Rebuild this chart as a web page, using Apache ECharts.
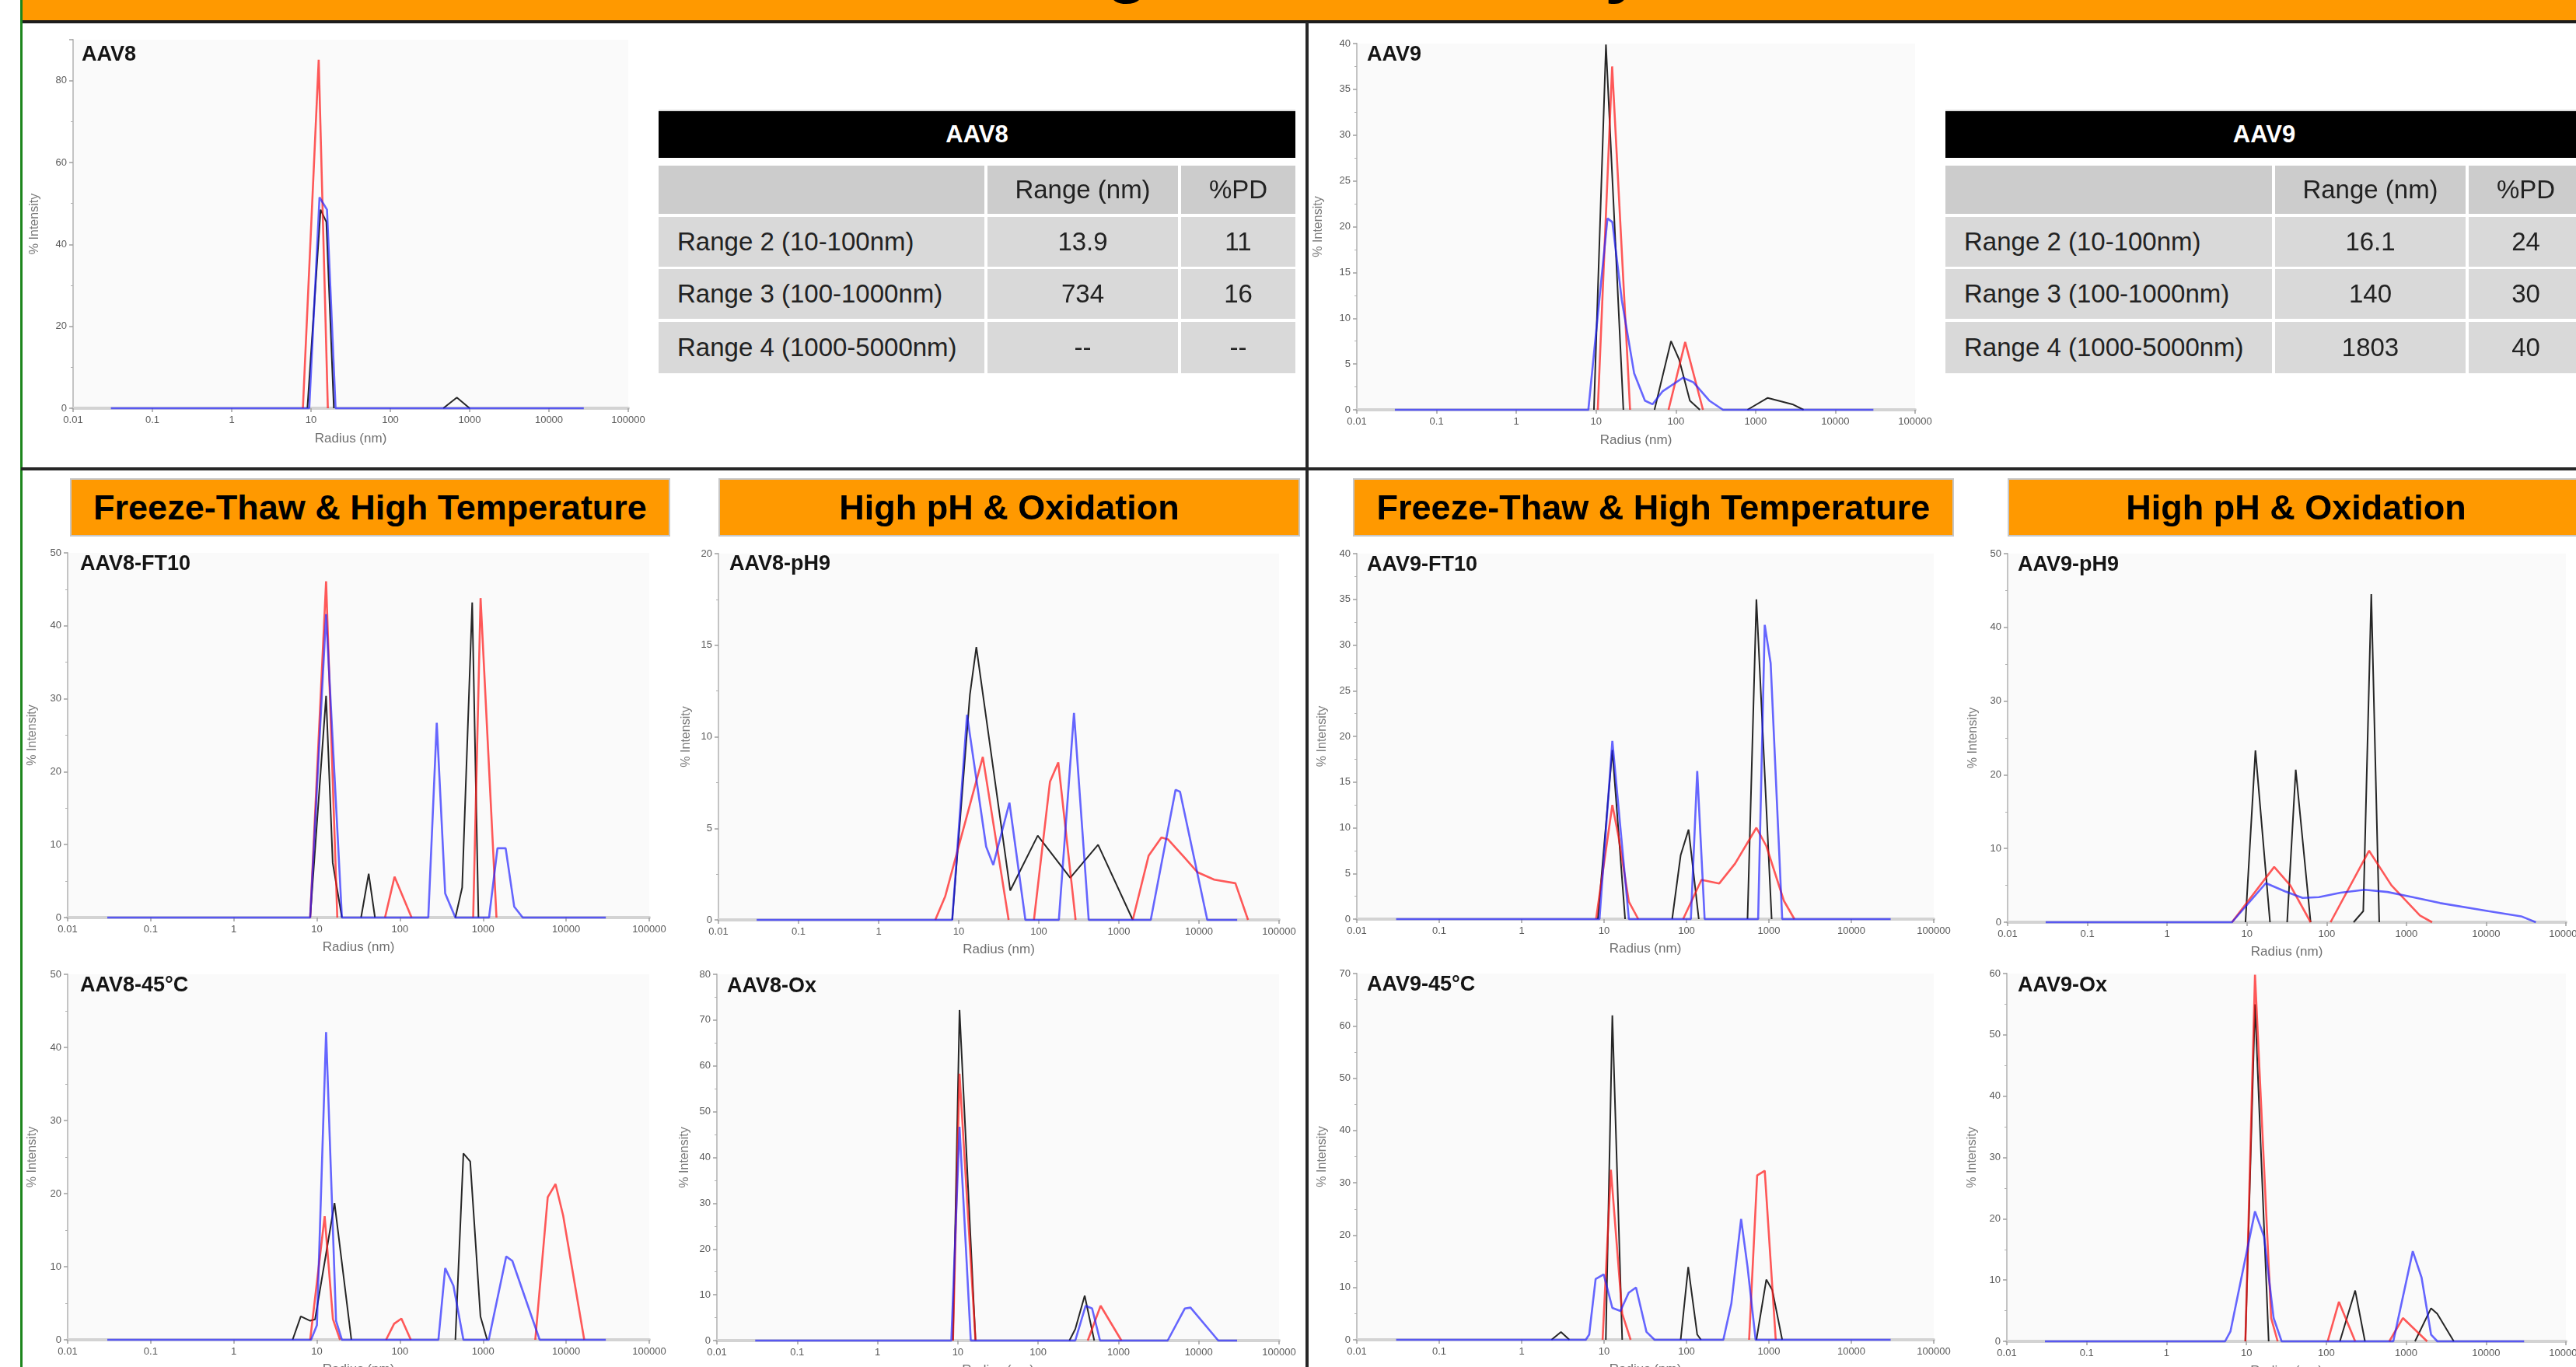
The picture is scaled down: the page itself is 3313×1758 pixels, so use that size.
<!DOCTYPE html>
<html>
<head>
<meta charset="utf-8">
<title>AAV DLS stress study</title>
<script src="https://cdn.jsdelivr.net/npm/echarts@6.0.0/dist/echarts.min.js"></script>
<style>
html,body{margin:0;padding:0;background:#fff;width:3313px;height:1758px;overflow:hidden;}
#chart{position:absolute;left:0;top:0;width:3313px;height:1758px;}
.f{position:absolute;box-sizing:border-box;font-family:"Liberation Sans",Arial,sans-serif;white-space:nowrap;}
</style>
</head>
<body>
<div id="chart"></div>
<script>
// ================= DATA =================
const pageTitle = 'Forced Degradation Study';
const sectionHeaders = ['Freeze-Thaw & High Temperature', 'High pH & Oxidation'];
const panelTitles = ['AAV8', 'AAV9', 'AAV8-FT10', 'AAV8-pH9', 'AAV9-FT10', 'AAV9-pH9', 'AAV8-45°C', 'AAV8-Ox', 'AAV9-45°C', 'AAV9-Ox'];
const radiusTickLabels = ['0.01', '0.1', '1', '10', '100', '1000', '10000', '100000'];
const yMax  = [90, 40, 50, 20, 40, 50, 50, 80, 70, 60];
const yStep = [20, 5, 10, 5, 5, 10, 10, 10, 10, 10];
const xAxisName = 'Radius (nm)';
const yAxisName = '% Intensity';

const tableHeader = ['', 'Range (nm)', '%PD'];
const tableRowLabels = ['Range 2 (10-100nm)', 'Range 3 (100-1000nm)', 'Range 4 (1000-5000nm)'];
const aav8Range = ['13.9', '734', '--'];
const aav8PD    = ['11', '16', '--'];
const aav9Range = ['16.1', '140', '1803'];
const aav9PD    = ['24', '30', '40'];

const _ = null; // break in a trace
// [radius nm, % intensity]
const aav8Black = [[9.0,0],[13.2,48.5],[15.6,45.5],[19.4,0],_,[465,0],[690,2.6],[1000,0]];
const aav8Red   = [[7.9,0],[12.5,85.1],[16.3,0]];
const aav8Blue  = [[0.03,0],[9.5,0],[12.8,51.5],[15.9,48.5],[20.4,0],[27500,0]];

const aav9Black = [[9.4,0],[13.3,39.9],[22,0],_,[54,0],[87,7.5],[110,5.5],[150,1],[200,0],_,[790,0],[1420,1.3],[2900,0.6],[4000,0]];
const aav9Red   = [[10.5,0],[15.9,37.5],[26.7,0],_,[81,0],[131,7.4],[219,0]];
const aav9Blue  = [[0.03,0],[8,0],[13.9,20.9],[16,20.5],[21,12],[30,4],[41,1],[51,0.6],[68,2],[123,3.5],[166,3],[263,1],[390,0],[30000,0]];

const ft8Black = [[8.3,0],[12.9,30.4],[15.5,7.5],[20,0],_,[34,0],[42,6],[50,0],_,[464,0],[560,4.1],[740,43.2],[880,0]];
const ft8Red   = [[8.3,0],[12.9,46.1],[17.6,0],_,[66,0],[86,5.6],[138,0],_,[760,0],[933,43.8],[1450,0]];
const ft8Blue  = [[0.03,0],[8.3,0],[12.9,41.6],[20,0],[219,0],[277,26.7],[350,3.3],[464,0],[1180,0],[1490,9.5],[1870,9.5],[2370,1.5],[3000,0],[30000,0]];

const ph8Black = [[8.3,0],[13.8,12.3],[16.6,14.9],[44,1.6],[97,4.6],[247,2.3],[550,4.1],[1490,0]];
const ph8Red   = [[5.1,0],[6.8,1.3],[20,8.9],[42,0],_,[87,0],[138,7.55],[175,8.6],[288,0],_,[1490,0],[2350,3.5],[3400,4.5],[4100,4.4],[6600,3.4],[9600,2.6],[15500,2.2],[28500,2.0],[41000,0]];
const ph8Blue  = [[0.03,0],[8.3,0],[12.7,11.2],[22,4.0],[27,3.0],[43,6.4],[68,0],[178,0],[275,11.3],[420,0],[2500,0],[5100,7.1],[5800,7.0],[12700,0],[30000,0]];

const ft9Black = [[8.4,0],[12.6,18.5],[18,0],_,[67,0],[85,7],[106,9.8],[141,0],_,[550,0],[705,35],[1080,0]];
const ft9Red   = [[8,0],[12.6,12.5],[15,9],[20,1.9],[26,0],_,[91,0],[152,4.3],[250,3.9],[390,6.1],[705,10],[930,8],[1520,2],[2040,0]];
const ft9Blue  = [[0.03,0],[8.8,0],[12.6,19.5],[20,0],[113,0],[135,16.2],[166,0],[740,0],[890,32.2],[1050,28],[1450,0],[30000,0]];

const ph9Black = [[9.6,0],[12.8,23.3],[19.5,0],_,[32,0],[41,20.7],[63,0],_,[218,0],[288,1.5],[363,44.5],[457,0]];
const ph9Red   = [[6.5,0],[22,7.5],[35,5.0],[63,0],_,[112,0],[340,9.7],[650,5],[1480,0.9],[2100,0]];
const ph9Blue  = [[0.03,0],[6.5,0],[17.3,5.3],[30,4.2],[50,3.3],[80,3.4],[150,4.0],[300,4.4],[580,4.1],[1200,3.4],[2640,2.6],[10700,1.5],[27500,0.8],[42000,0]];

const t8Black = [[5.1,0],[6.4,3.2],[8.3,2.6],[9.5,2.8],[16.3,18.7],[26,0],_,[464,0],[580,25.5],[700,24.4],[930,3.2],[1120,0]];
const t8Red   = [[8.3,0],[12.4,16.9],[15.6,2.8],[19,0],_,[68,0],[85,2.2],[104,2.9],[135,0],_,[4250,0],[6000,19.5],[7450,21.3],[9200,17],[16500,0]];
const t8Blue  = [[0.03,0],[8.5,0],[10,2],[12.9,42.1],[17,2.6],[20,0],[290,0],[350,9.8],[440,7.4],[580,0],[1170,0],[1900,11.4],[2250,10.8],[4800,0],[30000,0]];

const ox8Black = [[8.7,0],[10.5,72.2],[16.6,0],_,[245,0],[290,2.5],[380,9.8],[500,0]];
const ox8Red   = [[8.7,0],[10.5,58.3],[16.6,0],_,[415,0],[600,7.6],[1090,0]];
const ox8Blue  = [[0.03,0],[8.3,0],[10.5,46.7],[14.5,0],[290,0],[390,7.6],[470,7.0],[590,0],[4100,0],[6700,7.0],[7900,7.2],[17500,0],[30000,0]];

const t9Black = [[2.3,0],[3.0,1.5],[3.8,0],_,[10.5,0],[12.6,62],[16.6,0],_,[85,0],[105,13.9],[135,1],[150,0],_,[705,0],[930,11.5],[1100,9.5],[1450,0]];
const t9Red   = [[9.6,0],[12.1,32.5],[16.6,5],[21,0],_,[575,0],[720,31.4],[890,32.3],[1210,0]];
const t9Blue  = [[0.03,0],[6,0],[6.6,1],[7.9,11.6],[9.9,12.5],[12.6,6.1],[15.8,5.5],[19.9,9],[24.4,10],[32.7,1.5],[41,0],[280,0],[350,6.9],[460,23.1],[550,14],[690,0],[30000,0]];

const ox9Black = [[9.7,0],[12.8,55],[19,0],_,[148,0],[230,8.3],[305,0],_,[1290,0],[2050,5.4],[2450,4.5],[3950,0]];
const ox9Red   = [[9.7,0],[12.8,59.8],[20.4,3.8],[24.6,0],_,[104,0],[144,6.45],[230,0],_,[615,0],[910,3.8],[1830,0]];
const ox9Blue  = [[0.03,0],[5.4,0],[6.3,1.6],[12.8,21.2],[16.6,17.1],[21.9,3.8],[27.6,0],[690,0],[1210,14.7],[1560,10.4],[2050,1.1],[2460,0],[30000,0]];

const traces = [
  [aav8Black, aav8Red, aav8Blue],
  [aav9Black, aav9Red, aav9Blue],
  [ft8Black, ft8Red, ft8Blue],
  [ph8Black, ph8Red, ph8Blue],
  [ft9Black, ft9Red, ft9Blue],
  [ph9Black, ph9Red, ph9Blue],
  [t8Black, t8Red, t8Blue],
  [ox8Black, ox8Red, ox8Blue],
  [t9Black, t9Red, t9Blue],
  [ox9Black, ox9Red, ox9Blue]
];

// ================= LAYOUT (px) =================
// grid: [left, top, width, height]; title: [x, y]
const layout = [
  {g:[94,51,714,474],   tt:[105,57],   yg:41, xg:31},
  {g:[1745,56,718,471], tt:[1758,57],  yg:41, xg:31},
  {g:[87,711,748,469],  tt:[103,712],  yg:37, xg:30},
  {g:[924,712,721,471], tt:[938,712],  yg:33, xg:30},
  {g:[1745,712,742,470],tt:[1758,713], yg:36, xg:30},
  {g:[2582,712,718,474],tt:[2595,713], yg:36, xg:30},
  {g:[87,1253,748,470], tt:[103,1254], yg:37, xg:30},
  {g:[922,1253,723,471],tt:[935,1255], yg:33, xg:30},
  {g:[1745,1252,742,471],tt:[1758,1253],yg:36, xg:30},
  {g:[2581,1252,719,473],tt:[2595,1254],yg:36, xg:30}
];
const traceStyle = [
  {color:'#262626', width:2},
  {color:'rgba(255,25,25,0.72)', width:2.6},
  {color:'rgba(30,30,255,0.68)', width:2.6}
];
const FONT = '"Liberation Sans", Arial, sans-serif';

// ================= FRAME (HTML) =================
function box(l, t, w, h, css, text) {
  const d = document.createElement('div');
  d.className = 'f';
  d.style.cssText += `left:${l}px;top:${t}px;width:${w}px;height:${h}px;` + (css || '');
  if (text !== undefined) d.textContent = text;
  document.body.appendChild(d);
  return d;
}
const banner = box(27, 0, 3286, 27, 'background:#ff9900;overflow:hidden;z-index:2;');
const tdiv = document.createElement('div');
tdiv.className = 'f';
tdiv.style.cssText += 'left:950px;top:-91px;font-weight:bold;font-size:91px;line-height:91px;color:#000;';
tdiv.textContent = pageTitle;
banner.appendChild(tdiv);
box(27, 26, 3286, 4, 'background:#1c1c1c;z-index:3;');
box(26, 0, 3, 1758, 'background:#1d861d;z-index:3;');
box(1679, 28, 4, 1730, 'background:#262626;z-index:3;');
box(27, 601, 3286, 4, 'background:#262626;z-index:3;');

const hdrCss = 'background:#ff9900;border:2px solid #c6c6c6;display:flex;align-items:center;justify-content:center;font-weight:bold;font-size:45px;color:#000;z-index:2;';
box(90, 615, 772, 75, hdrCss, sectionHeaders[0]);
box(924, 615, 748, 75, hdrCss, sectionHeaders[1]);
box(1740, 615, 773, 75, hdrCss, sectionHeaders[0]);
box(2582, 615, 742, 75, hdrCss, sectionHeaders[1]);

function table(x0, name, colL, colW, ranges, pds) {
  box(x0, 141, colL[2] + colW[2] - x0, 62, 'background:#000;color:#fff;font-weight:bold;font-size:31px;display:flex;align-items:center;justify-content:center;border-top:2px solid #ddd;z-index:2;', name);
  const rowT = [213, 279, 346, 414];
  const rowH = [62, 64, 64, 66];
  for (let r = 0; r < 4; r++) {
    const bg = r === 0 ? '#cccccc' : '#d9d9d9';
    for (let c = 0; c < 3; c++) {
      let txt;
      if (r === 0) txt = tableHeader[c];
      else txt = c === 0 ? tableRowLabels[r - 1] : (c === 1 ? ranges[r - 1] : pds[r - 1]);
      const align = c === 0 ? 'justify-content:flex-start;padding-left:24px;' : 'justify-content:center;';
      box(colL[c], rowT[r], colW[c], rowH[r], `background:${bg};color:#222;font-size:33px;display:flex;align-items:center;${align}z-index:2;`, txt);
    }
  }
}
table(847, 'AAV8', [847, 1270, 1519], [419, 245, 147], aav8Range, aav8PD);
table(2502, 'AAV9', [2502, 2926, 3175], [420, 245, 147], aav9Range, aav9PD);

// ================= CHARTS (ECharts) =================
const chart = echarts.init(document.getElementById('chart'), null, {renderer: 'canvas'});
const grids = [], xAxes = [], yAxes = [], series = [], graphics = [];
layout.forEach((L, i) => {
  grids.push({
    left: L.g[0], top: L.g[1], width: L.g[2], height: L.g[3],
    show: true, backgroundColor: '#fafafa', borderWidth: 0,
    containLabel: false, outerBoundsMode: 'none'
  });
  xAxes.push({
    gridIndex: i, type: 'log', logBase: 10, min: 0.01, max: 100000,
    name: xAxisName, nameLocation: 'middle', nameGap: L.xg,
    nameTextStyle: {fontFamily: FONT, fontSize: 17, color: '#707070'},
    axisLine: {show: true, lineStyle: {color: '#d3d3d3', width: 4}},
    axisTick: {show: true, length: 5, lineStyle: {color: '#a0a0a0', width: 1.5}},
    axisLabel: {fontFamily: FONT, fontSize: 13, color: '#5a5a5a', margin: 9,
      formatter: v => radiusTickLabels[Math.round(Math.log10(v)) + 2]},
    splitLine: {show: false}, minorTick: {show: false}
  });
  yAxes.push({
    gridIndex: i, type: 'value', min: 0, max: yMax[i], interval: yStep[i],
    name: yAxisName, nameLocation: 'middle', nameGap: L.yg,
    nameTextStyle: {fontFamily: FONT, fontSize: 16, color: '#7a7a7a'},
    axisLine: {show: true, lineStyle: {color: '#c4c4c4', width: 2}},
    axisTick: {show: true, length: 5, lineStyle: {color: '#a0a0a0', width: 1.5}},
    minorTick: {show: true, splitNumber: 2, length: 3, lineStyle: {color: '#b0b0b0'}},
    axisLabel: {fontFamily: FONT, fontSize: 13, color: '#5a5a5a', margin: 8,
      showMaxLabel: yMax[i] % yStep[i] === 0},
    splitLine: {show: false}
  });
  traces[i].forEach((tr, k) => {
    series.push({
      type: 'line', xAxisIndex: i, yAxisIndex: i,
      data: tr.map(p => p === null ? [NaN, NaN] : p),
      showSymbol: false, symbol: 'none', clip: false, connectNulls: false,
      lineStyle: {color: traceStyle[k].color, width: traceStyle[k].width},
      itemStyle: {color: traceStyle[k].color},
      z: 2 + k, silent: true
    });
  });
  graphics.push({
    type: 'text', left: L.tt[0], top: L.tt[1], z: 100,
    style: {text: panelTitles[i], font: 'bold 27px ' + FONT, fill: '#141414'}
  });
});

chart.setOption({
  animation: false,
  backgroundColor: 'transparent',
  grid: grids, xAxis: xAxes, yAxis: yAxes, series: series, graphic: graphics
});
</script>
</body>
</html>
